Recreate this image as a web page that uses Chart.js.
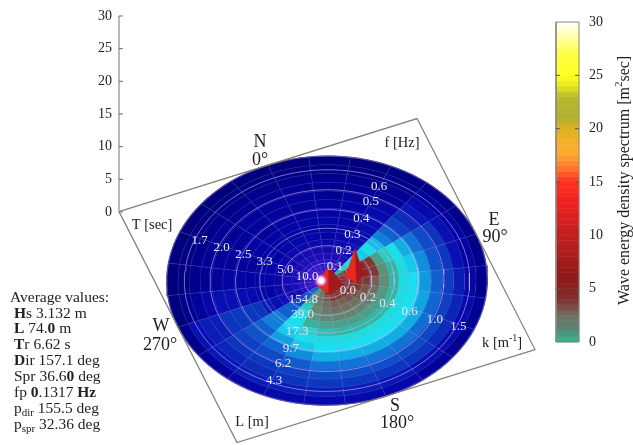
<!DOCTYPE html>
<html><head><meta charset="utf-8">
<style>html,body{margin:0;padding:0;background:#fff;overflow:hidden}canvas{display:block}</style>
<script src="https://cdn.jsdelivr.net/npm/chart.js@4/dist/chart.umd.min.js"></script>
</head><body><canvas id="c" width="633" height="445"></canvas>
<script>
// ---- data ----
const zTicks = [0,5,10,15,20,25,30];
const colorTicks = [0,5,10,15,20,25,30];
const ringEdges = [0,.04,.08,.12,.17,.22,.27,.33,.39,.45,.51,.58,.65,.72,.79,.86,.93,1];
const dirStep = 15;
// spectrum read per 15 degree direction sector (rows, from N clockwise), per ring (from centre outward)
const spectrum = [
[.12,.11,.10,.09,.08,.08,.07,.07,.06,.06,.06,.05,.05,.04,.03,.02,.01],
[.12,.11,.10,.09,.08,.07,.07,.06,.06,.07,.06,.05,.04,.04,.03,.02,.01],
[.13,.12,.10,.10,.08,.08,.08,.07,.07,.06,.06,.06,.05,.04,.03,.02,.01],
[.15,.12,.10,.10,.09,.09,.10,.10,.10,.09,.09,.08,.07,.05,.04,.03,.02],
[1.5,1.2,1.0,.80,.60,.50,.45,.55,.42,.30,.25,.18,.14,.11,.08,.05,.03],
[3.0,4.0,4.0,5.0,7.0,7.0,5.0,1.6,.80,.55,.38,.28,.20,.15,.10,.06,.03],
[4.0,5.0,6.0,6.0,7.0,7.0,5.0,2.0,1.0,.60,.45,.32,.22,.16,.10,.06,.03],
[5.0,6.0,6.0,6.0,6.0,5.0,3.5,2.0,1.0,.60,.50,.34,.25,.17,.12,.07,.03],
[6.0,6.0,6.0,5.0,5.0,4.0,3.0,1.8,1.0,.60,.50,.36,.26,.18,.13,.08,.04],
[6.0,7.0,6.0,5.0,4.0,3.5,2.6,1.6,1.0,.60,.50,.38,.27,.19,.14,.09,.04],
[6.0,7.0,6.0,5.0,4.0,3.0,2.4,1.6,1.0,.60,.50,.38,.28,.20,.15,.10,.05],
[7.0,8.0,6.0,5.0,3.5,3.0,2.4,1.6,1.0,.62,.50,.38,.28,.21,.15,.11,.07],
[7.0,8.0,6.0,5.0,3.5,3.0,2.4,1.6,1.0,.62,.50,.38,.28,.21,.16,.12,.08],
[5.0,6.0,5.0,4.0,3.0,2.6,2.2,1.5,.90,.60,.50,.38,.28,.20,.16,.12,.08],
[4.0,4.0,3.0,3.0,2.5,2.2,1.8,1.2,.75,.55,.45,.32,.24,.18,.15,.12,.08],
[2.0,2.0,2.0,1.8,1.2,.80,.60,.55,.50,.45,.35,.26,.20,.16,.14,.12,.07],
[.30,.30,.25,.25,.20,.20,.25,.25,.30,.30,.25,.22,.18,.15,.13,.11,.05],
[.10,.10,.09,.09,.08,.08,.10,.10,.12,.15,.16,.16,.15,.12,.12,.10,.03],
[.10,.10,.09,.08,.08,.07,.07,.06,.07,.08,.09,.10,.10,.07,.05,.03,.01],
[.11,.10,.09,.08,.07,.07,.06,.06,.06,.06,.06,.06,.05,.04,.03,.02,.01],
[.11,.10,.09,.08,.08,.07,.06,.06,.06,.05,.05,.05,.05,.04,.03,.02,.01],
[.12,.11,.10,.09,.08,.07,.07,.06,.06,.06,.06,.05,.04,.04,.03,.02,.01],
[.12,.11,.10,.09,.08,.07,.07,.07,.06,.06,.05,.05,.05,.04,.03,.02,.01],
[.12,.11,.10,.09,.08,.08,.07,.07,.06,.06,.06,.05,.05,.04,.03,.02,.01]
];
// raised peaks near the centre: [radius, direction, height] corners, with the value of each face
const peakFaces = [
 {v:6,  c:[[.12,97,0],[.187,117,0],[.235,99,0]]},
 {v:13, c:[[.12,97,0],[.18,97,4],[.187,117,0]]},
 {v:8,  c:[[.235,99,0],[.18,97,4],[.187,117,0]]},
 {v:5,  c:[[.08,275,0],[.11,194,0],[.11,130,0]]},
 {v:13, c:[[.08,275,0],[.034,180,2.6],[.11,194,0]]},
 {v:8,  c:[[.11,130,0],[.034,180,2.6],[.11,194,0]]}
];
const whitePeak = {r:.037, dir:292};
const ringLines = [.14,.28,.42,.57,.73,.89];
const fLabels = ['0.1','0.2','0.3','0.4','0.5','0.6'];
const fRadius = [.125,.26,.40,.54,.69,.82];
const kLabels = ['0.0','0.2','0.4','0.6','1.0','1.5'];
const kRadius = [.154,.29,.42,.575,.745,.90];
const kDirs = [144,140,138,138,137,136];
const tLabels = ['10.0','5.0','3.3','2.5','2.0','1.7'];
const tRadius = [.128,.273,.418,.564,.712,.86];
const tDirs = [307,310,313,314,314,314];
const lLabels = ['154.8','39.0','17.3','9.7','6.2','4.3'];
const lRadius = [.21,.31,.45,.59,.72,.867];
const lDirs = [246,231,226,224,224,224];
const cellStops = [[0,'#000074'],[.03,'#00008c'],[.06,'#0404a4'],[.10,'#0810b4'],[.15,'#0c34bc'],[.25,'#1060d0'],[.35,'#10a0e0'],[.5,'#18e0f0'],[.7,'#28d8d0'],[1,'#30b8a0'],[2,'#5f8f78'],[3,'#707060'],[5,'#803a30'],[8,'#a01820'],[12,'#e01818'],[16,'#ff6020'],[20,'#d0c020'],[25,'#ffff20'],[30,'#ffffff']];
const barStops = [[0,'#30c0a0'],[.5,'#40a080'],[1.5,'#608070'],[2.5,'#707060'],[4,'#803030'],[6,'#901818'],[10,'#c02020'],[13,'#f02020'],[15,'#ff3020'],[16.5,'#ff8030'],[18,'#ffb030'],[20,'#e0b020'],[21,'#b0b030'],[23,'#b8b830'],[24,'#e8e820'],[25,'#ffff20'],[27,'#ffff40'],[28.5,'#ffffa0'],[30,'#ffffff']];
const ringTint = [.65,.55,.42,.3,.2,.12,.06,0,0,0,0,0,0,0,0,0,0];
const statLines = [
 [['Average values:']],
 [['H',1],['s 3.132 m']],
 [['L',1],[' 74.'],['0',1],[' m']],
 [['T',1],['r 6.62 s']],
 [['D',1],['ir 157.1 deg']],
 [['Spr 36.6'],['0',1],[' deg']],
 [['fp '],['0',1],['.1317 '],['Hz',1]],
 [['p'],['dir',0,1],[' 155.5 deg']],
 [['p'],['spr',0,1],[' 32.36 deg']]
];

// ---- projection of the polar floor, in z-axis units ----
const PX = 6.533;
const floorC = {x:31.84,y:-10.5}, east = {x:22.81,y:7.12}, north = {x:-9.03,y:17.68};
function P(r,deg,z){const t=deg*Math.PI/180,s=Math.sin(t)*r,c=Math.cos(t)*r;
 return {x:floorC.x+s*east.x+c*north.x, y:floorC.y+s*east.y+c*north.y+(z||0)};}
function hex(h){return [1,3,5].map(i=>parseInt(h.substr(i,2),16));}
function ramp(st,v){
 if(v<=st[0][0])return hex(st[0][1]);
 for(let i=1;i<st.length;i++)if(v<=st[i][0]){
  const a=hex(st[i-1][1]),b=hex(st[i][1]),f=(v-st[i-1][0])/(st[i][0]-st[i-1][0]);
  return a.map((q,j)=>q+(b[j]-q)*f);}
 return hex(st[st.length-1][1]);}
const rgb=c=>`rgb(${c.map(Math.round).join(',')})`;
const poly=(data,color,extra)=>Object.assign({data,showLine:true,fill:'shape',backgroundColor:color,borderColor:color,borderWidth:.6,pointRadius:0,tension:0,clip:false},extra||{});
const line=(data,color,w)=>({data,showLine:true,fill:false,borderColor:color,borderWidth:w,pointRadius:0,tension:0,clip:false});

const layers=[];
// floor cells
spectrum.forEach((row,d)=>row.forEach((v,i)=>{
 const r0=ringEdges[i],r1=ringEdges[i+1],a0=d*dirStep,pts=[];
 for(let k=0;k<=5;k++)pts.push(P(r1,a0+k*dirStep/5));
 for(let k=5;k>=0;k--)pts.push(P(r0,a0+k*dirStep/5));
 let c=ramp(cellStops,v);
 if(v<.2){const t=ringTint[i],vi=[120,24,225];c=c.map((q,j)=>q+(vi[j]-q)*t);}
 layers.push(poly(pts,rgb(c)));
}));
// mesh
const arc=r=>{const a=[];for(let d=0;d<=360;d+=3)a.push(P(r,d));return a;};
ringEdges.slice(1,-1).forEach(r=>layers.push(line(arc(r),'rgba(150,150,235,.22)',.7)));
for(let d=0;d<360;d+=dirStep)layers.push(line([P(.04,d),P(1,d)],'rgba(150,150,235,.26)',.7));
ringLines.forEach(r=>layers.push(line(arc(r),'rgba(200,175,235,.62)',1)));
layers.push(line(arc(1),'#5a50a8',1.2));
// peaks
peakFaces.forEach(f=>layers.push(poly(f.c.map(q=>P(q[0],q[1],q[2])),rgb(ramp(cellStops,f.v)))));
const wp=P(whitePeak.r,whitePeak.dir);
layers.push({data:[wp],showLine:false,pointRadius:4.5,pointBackgroundColor:'#fff',pointBorderColor:'#e070f0',pointBorderWidth:2,clip:false});
// frame of the floor
layers.push(line([P(Math.SQRT2,315),P(Math.SQRT2,45),P(Math.SQRT2,135),P(Math.SQRT2,225),P(Math.SQRT2,315)],'#857d70',1.2));
// z axis
const zOrigin=P(Math.SQRT2,315).x;
layers.push(line([{x:zOrigin,y:0},{x:zOrigin,y:30}],'#a8a8a8',1.6));
zTicks.forEach(t=>layers.push(line([{x:zOrigin,y:t},{x:zOrigin+.6,y:t}],'#666',1)));
// colour bar, on the second y axis
const barX0=(556-119)/PX, barX1=(579-119)/PX;
for(let v=0;v<30;v+=.5){
 layers.push(poly([{x:barX0,y:v},{x:barX1,y:v},{x:barX1,y:v+.5},{x:barX0,y:v+.5}],rgb(ramp(barStops,v+.25)),{yAxisID:'c'}));
}
layers.push(Object.assign(line([{x:barX0,y:0},{x:barX1,y:0},{x:barX1,y:30},{x:barX0,y:30},{x:barX0,y:0}],'#8a8a80',1),{yAxisID:'c'}));
colorTicks.slice(1,-1).forEach(t=>{
 layers.push(Object.assign(line([{x:barX0,y:t},{x:barX0+.6,y:t}],'#555',1),{yAxisID:'c'}));
 layers.push(Object.assign(line([{x:barX1-.6,y:t},{x:barX1,y:t}],'#555',1),{yAxisID:'c'}));
});

const SERIF='"Liberation Serif","DejaVu Serif",serif';
const textPlugin={id:'texts',afterDraw(ch){
 const g=ch.ctx,sx=ch.scales.x,sy=ch.scales.y;
 const T=(s,x,y,font,col,rot)=>{g.save();g.translate(x,y);if(rot)g.rotate(rot);g.font=font;g.fillStyle=col;g.textAlign='center';g.textBaseline='middle';g.fillText(s,0,0);g.restore();};
 const polar=(labs,rad,dirs)=>labs.forEach((s,i)=>{const d=Array.isArray(dirs)?dirs[i]:dirs,p=P(rad[i],d);
   T(s,sx.getPixelForValue(p.x),sy.getPixelForValue(p.y),'13px '+SERIF,'#e6e6f2');});
 polar(fLabels,fRadius,45);polar(kLabels,kRadius,kDirs);polar(tLabels,tRadius,tDirs);polar(lLabels,lRadius,lDirs);
 const big='18px '+SERIF,ink='#222';
 T('N',260,142,big,ink);T('0°',260,160,big,ink);
 T('E',494,220,big,ink);T('90°',495,237,big,ink);
 T('W',161,326,big,ink);T('270°',160,345,big,ink);
 T('S',395,406,big,ink);T('180°',397,423,big,ink);
 const mid='14.5px '+SERIF;
 T('T [sec]',152,225,mid,ink);T('f [Hz]',402,143,mid,ink);T('L [m]',252,422,mid,ink);
 // k label with superscript
 g.save();g.font=mid;g.fillStyle=ink;g.textAlign='left';g.textBaseline='middle';
 g.fillText('k [m',482,343);let kw=g.measureText('k [m').width;
 g.font='10px '+SERIF;g.fillText('-1',482+kw,338);kw+=g.measureText('-1').width;
 g.font=mid;g.fillText(']',482+kw,343);g.restore();
 // colour bar title
 g.save();g.translate(625,305);g.rotate(-Math.PI/2);g.font='16px '+SERIF;g.fillStyle=ink;g.textAlign='left';g.textBaseline='middle';
 const a='Wave energy density spectrum [m';g.fillText(a,0,0);let w=g.measureText(a).width;
 g.font='11px '+SERIF;g.fillText('2',w,-6);w+=g.measureText('2').width;
 g.font='16px '+SERIF;g.fillText('sec]',w,0);g.restore();
 // average values
 const ys=[298,314,329,345,361,377,393,409,425];
 g.save();g.textBaseline='middle';g.textAlign='left';g.fillStyle=ink;
 statLines.forEach((ln,i)=>{let x=i?14:10;ln.forEach(run=>{
   g.font=(run[1]?'bold ':'')+(run[2]?'11px ':'15.5px ')+SERIF;
   g.fillText(run[0],x,ys[i]+(run[2]?4:0));x+=g.measureText(run[0]).width;});});
 g.restore();
}};

new Chart(document.getElementById('c'),{
 type:'scatter',
 data:{datasets:layers.reverse()},
 options:{responsive:false,animation:false,devicePixelRatio:1,
  layout:{padding:{top:16,bottom:8,left:0,right:0}},
  plugins:{legend:{display:false},tooltip:{enabled:false},title:{display:false}},
  events:[],
  scales:{
   x:{type:'linear',display:false,min:0,max:(579-119)/PX},
   y:{type:'linear',position:'left',min:-(437-212)/PX,max:30,
      afterFit(s){s.width=119;s.paddingTop=0;s.paddingBottom=0;},
      afterBuildTicks(s){s.ticks=zTicks.map(v=>({value:v}));},
      grid:{display:false,drawTicks:false},border:{display:false},
      ticks:{padding:7,color:'#222',font:{family:SERIF,size:14},autoSkip:false}},
   c:{type:'linear',position:'right',min:-(437-342)/(320/30),max:30+6/(320/30),
      afterFit(s){s.width=54;s.paddingTop=0;s.paddingBottom=0;},
      afterBuildTicks(s){s.ticks=colorTicks.map(v=>({value:v}));},
      grid:{display:false,drawTicks:false},border:{display:false},
      ticks:{padding:10,color:'#222',font:{family:SERIF,size:14},autoSkip:false}}
  }
 },
 plugins:[textPlugin]
});
</script></body></html>
